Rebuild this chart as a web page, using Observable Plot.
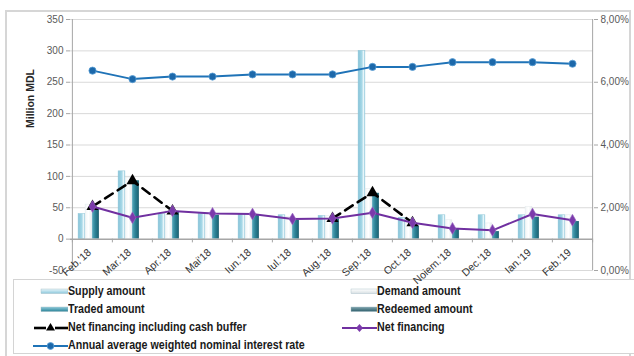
<!DOCTYPE html>
<html>
<head>
<meta charset="utf-8">
<script src="https://cdn.jsdelivr.net/npm/d3@7"></script>
<script src="https://cdn.jsdelivr.net/npm/@observablehq/plot@0.6"></script>
<style>
  html, body { margin: 0; padding: 0; background: #fff; }
  #wrap { position: relative; width: 634px; height: 356px; overflow: hidden; }
  #frame { position: absolute; left: 5px; top: 10px; width: 626px; height: 360px;
           border: 2px solid #d6d6d6; box-sizing: border-box; }
  #chart { position: absolute; left: 0; top: 0; z-index: 2; }
  #chart svg { overflow: visible; }
  #legend { position: absolute; left: 13px; top: 279px; width: 625px; height: 75px; z-index: 1;
            border: 1px solid #d4d4d4; box-sizing: border-box; background: #fff; }
  .item { position: absolute; height: 14px; font-family: "Liberation Sans", Arial, sans-serif;
          font-weight: bold; font-size: 12px; color: #1a1a1a; line-height: 14px; white-space: nowrap; }
  .item svg { position: absolute; top: 0; }
  .item span { position: absolute; top: 0; transform: scaleX(0.89); transform-origin: 0 50%; }
</style>
</head>
<body>
<div id="wrap">
  <div id="frame"></div>
  <div id="legend"></div>
  <div id="chart"></div>
</div>
<script>
// Monthly auction results for state securities, million MDL
const months = ["Feb.'18", "Mar.'18", "Apr.'18", "Mai'18", "Iun.'18", "Iul.'18", "Aug.'18",
                "Sep.'18", "Oct.'18", "Noiem.'18", "Dec.'18", "Ian.'19", "Feb.'19"];
const supplyAmount   = [40, 108, 40, 40, 40, 38, 37, 300, 34, 38, 38, 38, 38];
const demandAmount   = [55, 98, 45, 40, 40, 35, 37, 80, 33, 30, 25, 51, 38];
const tradedAmount   = [48, 93, 43, 38, 38, 30, 32, 73, 21, 17, 12, 35, 28];
const redeemedAmount = [0, 0, 0, 0, 0, 0, 0, 0, 0, 0, 0, 0, 0];
const netFinancingBuffer = [52, 93, 45, null, null, null, 33, 74, 26, null, null, null, null];
const netFinancing   = [52, 34, 45, 41, 40, 32, 33, 42, 26, 17, 14, 40, 30];
// Annual average weighted nominal interest rate, percent (right axis)
const interestRate   = [6.37, 6.10, 6.18, 6.18, 6.25, 6.25, 6.25, 6.49, 6.49, 6.64, 6.64, 6.64, 6.59];

const leftTicks  = [-50, 0, 50, 100, 150, 200, 250, 300, 350];
const gridTicks  = [-50, 50, 100, 150, 200, 250, 300, 350];
const rightTicks = [0, 2, 4, 6, 8];

// right axis (percent) shares the left axis: 0% sits at -50, 8% at 350
const pctToLeft = p => -50 + p * 50;
const pctLabel = p => p.toFixed(2).replace(".", ",") + "%";

const rows = months.map((m, i) => ({
  month: m,
  supply: supplyAmount[i],
  demand: demandAmount[i],
  traded: tradedAmount[i],
  redeemed: redeemedAmount[i],
  buffer: netFinancingBuffer[i],
  net: netFinancing[i],
  rate: interestRate[i]
}));

const W = 634, H = 285, ML = 70, MR = 41, MT = 19, MB = 15;
const bw = (W - ML - MR) / months.length;
const barW = 7;
const inset = (bw - barW) / 2;

const bar = (key, fill, k, extra = {}) =>
  Plot.barY(rows, {x: "month", y: key, fill, insetLeft: inset, insetRight: inset,
                   dx: (k - 1.5) * barW, ...extra});

const svg = Plot.plot({
  width: W, height: H,
  marginLeft: ML, marginRight: MR, marginTop: MT, marginBottom: MB,
  style: {fontFamily: "'Liberation Sans', Arial, sans-serif", fontSize: "10px", color: "#595959", background: "transparent", overflow: "visible"},
  x: {type: "band", domain: months, padding: 0, axis: null},
  y: {domain: [-50, 350], axis: null},
  marks: [
    Plot.ruleY(gridTicks, {stroke: "#d9d9d9", strokeWidth: 1}),
    // vertical axis lines at both ends of the band range
    Plot.ruleX([months[0]], {dx: -bw / 2, stroke: "#a6a6a6"}),
    Plot.ruleX([months[months.length - 1]], {dx: bw / 2, stroke: "#a6a6a6"}),
    bar("supply", "url(#gSupply)", 0, {stroke: "#8ec6d8", strokeWidth: 0.5}),
    bar("demand", "url(#gDemand)", 1, {stroke: "#e3eaec", strokeWidth: 0.5}),
    bar("traded", "url(#gTraded)", 2),
    bar("redeemed", "#3d6f7c", 3),
    Plot.ruleY([0], {stroke: "#a6a6a6", strokeWidth: 1.5}),
    Plot.ruleX(months, {x: d => d, dx: -bw / 2, y1: 0, y2: -6, stroke: "#a6a6a6"}),
    Plot.ruleX([months[months.length - 1]], {dx: bw / 2, y1: 0, y2: -6, stroke: "#a6a6a6"}),
    // net financing including cash buffer
    Plot.line(rows, {x: "month", y: "buffer", stroke: "#000", strokeWidth: 2.6, strokeDasharray: "9,6"}),
    Plot.dot(rows.filter(d => d.buffer != null), {x: "month", y: "buffer", symbol: "triangle", r: 4.5, fill: "#000"}),
    // net financing
    Plot.line(rows, {x: "month", y: "net", stroke: "#7030a0", strokeWidth: 2}),
    Plot.dot(rows, {x: "month", y: "net", symbol: "diamond", r: 3.6, fill: "#7b3aab", stroke: "#9c6cc4", strokeWidth: 0.6}),
    // interest rate on the right-hand scale
    Plot.line(rows, {x: "month", y: d => pctToLeft(d.rate), stroke: "#1f73b7", strokeWidth: 2}),
    Plot.dot(rows, {x: "month", y: d => pctToLeft(d.rate), r: 3.6, fill: "#1c68aa", stroke: "#5b9fd6", strokeWidth: 0.8}),
    // axes
    Plot.axisY(leftTicks, {anchor: "left", tickSize: 4, tickPadding: 3, stroke: "#a6a6a6", fill: "#595959", label: null,
      tickFormat: v => String(v)}),
    Plot.axisY(rightTicks.map(pctToLeft), {anchor: "right", tickSize: 4, tickPadding: 3, stroke: "#a6a6a6", fill: "#595959",
      tickFormat: v => pctLabel((v + 50) / 50), label: null}),
    Plot.text(months, {x: d => d, y: () => 0, text: d => d, rotate: -42, textAnchor: "end",
      dx: -2.8, dy: 11.7, fill: "#333", fontSize: 10.5}),
    Plot.text(["Million MDL"], {frameAnchor: "left", dx: -40, dy: -17, rotate: -90,
      fontWeight: "bold", fontSize: 10.5, fill: "#262626"})
  ]
});

// cylinder-like shading for the bars
const defs = d3.select(svg).insert("defs", ":first-child");
const grad = (id, stops) => {
  const g = defs.append("linearGradient").attr("id", id).attr("x1", 0).attr("x2", 1).attr("y1", 0).attr("y2", 0);
  stops.forEach(([o, c]) => g.append("stop").attr("offset", o).attr("stop-color", c));
};
grad("gSupply", [[0, "#86c3d8"], [0.55, "#a6d8e7"], [0.8, "#e8f6fa"], [1, "#a4d4e4"]]);
grad("gDemand", [[0, "#f2f6f7"], [0.5, "#ffffff"], [1, "#e6ecee"]]);
grad("gTraded", [[0, "#58a9bc"], [0.45, "#2c8296"], [1, "#1b5f6f"]]);

document.getElementById("chart").appendChild(svg);

// legend
const legend = document.getElementById("legend");
const items = [
  {label: "Supply amount", col: 0, row: 0, kind: "bar", fill: "url(#lSupply)"},
  {label: "Demand amount", col: 1, row: 0, kind: "bar", fill: "url(#lDemand)"},
  {label: "Traded amount", col: 0, row: 1, kind: "bar", fill: "url(#lTraded)"},
  {label: "Redeemed amount", col: 1, row: 1, kind: "bar", fill: "url(#lRedeemed)"},
  {label: "Net financing including cash buffer", col: 0, row: 2, kind: "buffer"},
  {label: "Net financing", col: 1, row: 2, kind: "net"},
  {label: "Annual average weighted nominal interest rate", col: 0, row: 3, kind: "rate"}
];
const rowY = [4, 22, 40, 58];
const colX = [19, 328];
const sw = 35;
const legendDefs = `<defs>
  <linearGradient id="lSupply" x1="0" x2="0" y1="0" y2="1"><stop offset="0" stop-color="#e6f5fa"/><stop offset="1" stop-color="#8cc8dc"/></linearGradient>
  <linearGradient id="lDemand" x1="0" x2="0" y1="0" y2="1"><stop offset="0" stop-color="#ffffff"/><stop offset="1" stop-color="#d8e0e3"/></linearGradient>
  <linearGradient id="lTraded" x1="0" x2="0" y1="0" y2="1"><stop offset="0" stop-color="#8fcbdc"/><stop offset="1" stop-color="#2a8397"/></linearGradient>
  <linearGradient id="lRedeemed" x1="0" x2="0" y1="0" y2="1"><stop offset="0" stop-color="#7fa4ae"/><stop offset="1" stop-color="#2f5f6c"/></linearGradient>
</defs>`;
items.forEach((it, i) => {
  const div = document.createElement("div");
  div.className = "item";
  div.style.left = colX[it.col] + "px";
  div.style.top = rowY[it.row] + "px";
  let g = "";
  if (it.kind === "bar") {
    g = `<rect x="${it.col ? 9 : 8}" y="5" width="${it.col ? 26 : 27}" height="4.5" fill="${it.fill}" stroke="#9fb8c0" stroke-width="0.4"/>`;
  } else if (it.kind === "buffer") {
    g = `<line x1="1" x2="13" y1="8" y2="8" stroke="#000" stroke-width="2.6"/>
         <line x1="22" x2="35" y1="8" y2="8" stroke="#000" stroke-width="2.6"/>
         <path d="M17.5,3 L22,10.5 L13,10.5 Z" fill="#000"/>`;
  } else if (it.kind === "net") {
    g = `<line x1="0" x2="35" y1="8" y2="8" stroke="#7030a0" stroke-width="2"/>
         <path d="M17.5,4 L21,8 L17.5,12 L14,8 Z" fill="#7b3aab"/>`;
  } else {
    g = `<line x1="0" x2="35" y1="8" y2="8" stroke="#1f73b7" stroke-width="2"/>
         <circle cx="17.5" cy="8" r="3.4" fill="#1c68aa" stroke="#5b9fd6" stroke-width="0.8"/>`;
  }
  div.innerHTML = `<svg width="${sw}" height="14" style="left:0">${i === 0 ? legendDefs : ""}${g}</svg><span style="left:${sw}px">${it.label}</span>`;
  legend.appendChild(div);
});
</script>
</body>
</html>
